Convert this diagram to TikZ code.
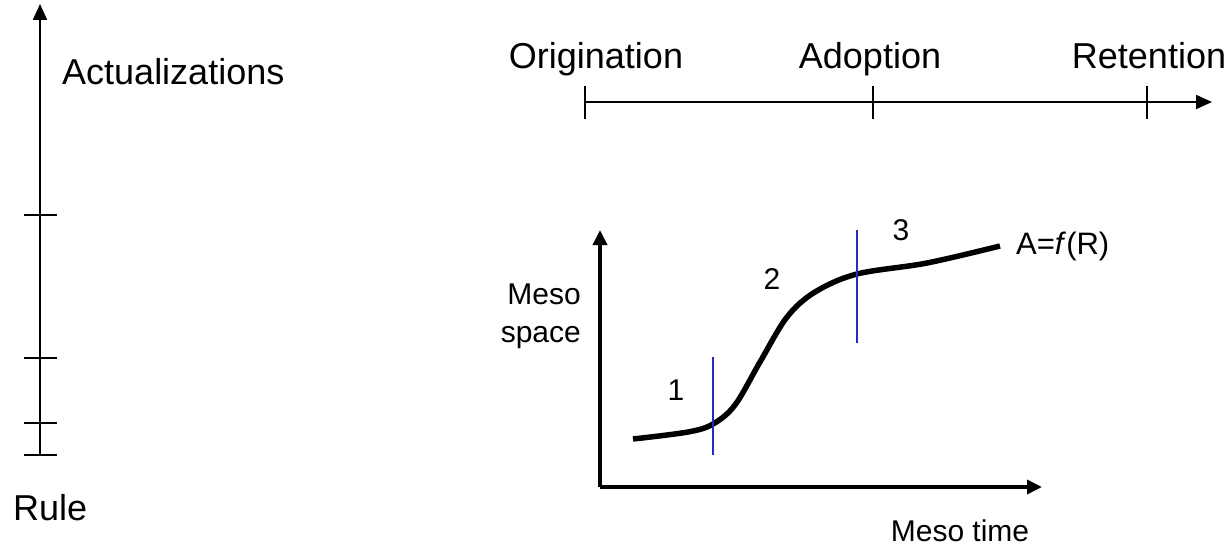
\documentclass[tikz,border=0pt]{standalone}
\usepackage{fontspec}
\setmainfont{Liberation Sans}
\usetikzlibrary{arrows.meta}
\definecolor{phaseblue}{RGB}{40,40,200}
\tikzset{
  biglabel/.style={font=\fontsize{36}{40}\selectfont, inner sep=0pt},
  smalllabel/.style={font=\fontsize{30}{38}\selectfont, inner sep=0pt},
  axisline/.style={line width=2.2pt, -{Triangle[length=16pt,width=14pt]}},
  tickline/.style={line width=2pt},
  graphaxis/.style={line width=3.5pt, -{Triangle[length=15pt,width=14pt]}},
  curveline/.style={line width=5.5pt},
  phaseline/.style={line width=1.6pt, phaseblue}
}
\begin{document}
\begin{tikzpicture}[x=1pt,y=-1pt]
\useasboundingbox (0,0) rectangle (1230,548);
% left axis
\coordinate (lbot) at (40,455);
\coordinate (ltop) at (40,4);
\draw[axisline] (lbot) -- (ltop);
\foreach \yy in {215,358,423,455}{
  \draw[tickline] (24,\yy) -- (57,\yy);
}
\node[biglabel, anchor=base west] (act) at (62,85) {Actualizations};
\node[biglabel, anchor=base west] (rule) at (13,520) {Rule};
% top axis
\coordinate (tstart) at (585,102);
\coordinate (tend) at (1212,102);
\draw[axisline, line width=2pt] (tstart) -- (tend);
\foreach \xx in {585,873,1147}{
  \draw[tickline] (\xx,86) -- (\xx,119);
}
\node[biglabel, anchor=base] (orig) at (596,69) {Origination};
\node[biglabel, anchor=base] (adop) at (870,69) {Adoption};
\node[biglabel, anchor=base] (ret) at (1149,69) {Retention};
% graph axes
\coordinate (origin) at (600,487);
\coordinate (ytip) at (600,230);
\coordinate (xtip) at (1042,487);
\draw[graphaxis] (origin) -- (ytip);
\draw[graphaxis] (origin) -- (xtip);
% curve
\draw[curveline, line cap=butt] plot[smooth, tension=0.55] coordinates {(633,439) (688,432) (713,424) (735,405) (760,362) (787,317) (815,292) (857,274) (927,263) (1000,246)};
% phase lines
\coordinate (p1a) at (713,357);
\coordinate (p1b) at (713,455);
\coordinate (p2a) at (857,230);
\coordinate (p2b) at (857,343);
\draw[phaseline] (p1a) -- (p1b);
\draw[phaseline] (p2a) -- (p2b);
% labels
\node[smalllabel] (one) at (676,390) {1};
\node[smalllabel] (two) at (772,279) {2};
\node[smalllabel] (three) at (901,230) {3};
\node[smalllabel, font=\fontsize{31}{38}\selectfont, anchor=west] (afr) at (1016,246) {A=\textit{f}(R)};
\node[smalllabel, anchor=east, align=right] (mspace) at (581,316) {Meso\\space};
\node[smalllabel, anchor=base] (mtime) at (960,541) {Meso time};
\end{tikzpicture}
\end{document}
